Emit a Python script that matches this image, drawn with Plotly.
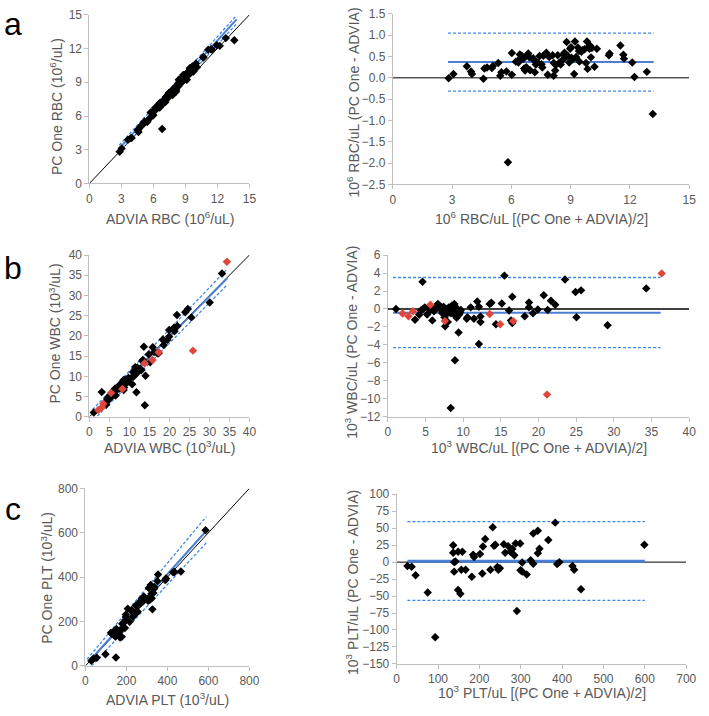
import plotly.graph_objects as go

# ---------------- DATA (mean, difference) ----------------
rbc_mean = [2.83,3.07,3.75,3.96,4.01,4.59,4.64,4.77,5.02,5.07,5.34,5.44,5.50,5.75,6.03,6.03,6.23,6.36,6.43,6.46,
            6.53,6.60,6.65,6.70,6.76,6.81,6.86,6.91,6.95,7.11,7.14,7.19,7.24,7.34,7.43,7.53,7.57,7.62,7.72,7.77,
            7.84,7.92,8.09,8.14,8.15,8.22,8.25,8.35,8.42,8.50,8.59,8.64,8.69,8.75,8.80,8.85,8.93,8.98,9.02,9.05,
            9.12,9.18,9.22,9.28,9.37,9.42,9.45,9.55,9.61,9.71,9.78,9.83,9.86,9.91,9.95,9.99,10.03,10.08,10.21,10.33,
            10.94,10.97,11.52,11.67,11.70,12.12,12.23,12.86,13.16,5.83]
rbc_diff = [-0.01,0.09,0.27,0.15,0.09,-0.02,0.22,0.24,0.23,0.28,0.35,0.05,0.13,0.15,0.58,0.07,0.38,0.36,0.55,0.46,
            0.52,0.44,0.22,0.17,0.25,0.53,0.57,0.48,0.18,0.46,0.41,0.13,0.31,0.36,0.51,0.32,0.24,0.52,0.55,0.59,
            0.07,0.49,0.53,0.05,0.35,0.17,0.30,0.53,0.35,0.31,0.42,0.55,0.59,0.49,0.84,0.52,0.36,0.68,0.72,0.47,
            0.44,0.09,0.85,0.49,0.71,0.63,0.38,0.61,0.65,0.67,0.35,0.85,0.21,0.73,0.68,0.75,0.48,0.70,0.26,0.68,
            0.53,0.57,0.76,0.54,0.45,0.36,0.02,0.14,-0.85,-1.98]

wbc_mean = [1.09,3.61,4.17,4.39,4.61,4.70,4.91,5.22,5.65,5.91,6.13,6.43,6.65,6.87,7.09,7.22,7.30,7.52,7.61,7.83,
            7.96,8.09,8.26,8.39,8.61,8.83,8.91,8.96,9.04,9.13,9.26,9.39,9.48,9.70,8.35,10.48,10.57,11.00,11.43,11.87,
            12.09,12.09,12.30,12.30,13.52,13.74,14.35,15.13,15.48,16.09,16.35,16.52,16.52,18.17,18.74,18.74,19.26,19.91,20.70,21.22,
            21.65,22.22,23.52,24.91,25.04,25.65,29.17,34.30,5.43,6.22,7.00,7.39,8.17,8.70,8.48,9.17,9.61,6.78,7.74]
wbc_diff = [0.00,-1.20,-0.65,-0.18,3.02,0.00,0.18,-0.62,-0.11,-1.27,-0.25,0.36,0.55,0.36,0.11,-0.44,-0.11,-0.91,-1.93,-0.55,
            -1.45,0.18,-0.18,-0.47,0.18,0.55,-5.71,-0.73,0.18,-0.98,-0.18,-2.62,-0.62,-0.11,-11.02,-1.09,-0.91,0.18,-1.09,0.84,
            0.25,-3.89,-1.45,-0.84,0.55,0.69,-1.71,0.62,3.71,-0.18,-1.27,-1.56,1.35,-0.80,0.18,0.73,-0.47,-0.07,1.53,-0.11,
            0.91,0.47,3.27,1.89,-0.91,2.07,-1.82,2.29,0.04,0.18,-0.07,0.25,-0.36,-0.11,0.36,-0.47,-0.36,0.25,0.00]
wbc_red_mean = [1.96,2.74,3.35,5.65,7.57,13.52,14.91,16.65,21.13,36.35]
wbc_red_diff = [-0.51,-0.80,-0.25,0.47,-1.35,-0.55,-1.71,-1.35,-9.53,3.96]

plt_mean = [26.1,36.3,45.8,75.1,136.7,136.7,139.0,142.0,139.0,148.5,154.0,148.5,158.8,156.4,166.7,181.7,184.9,187.2,201.5,208.6,
            207.0,214.0,226.7,232.3,235.4,238.6,243.3,245.7,249.6,259.1,262.3,269.4,274.9,279.7,284.4,287.6,298.6,303.4,299.4,303.4,
            314.4,323.9,330.2,330.2,341.3,341.3,345.2,366.6,383.2,387.9,393.4,425.0,429.0,445.6,598.8,93.2,290.7]
plt_diff = [-5.8,-6.7,-19.2,-44.7,25.0,13.9,0.0,1.0,-14.0,-40.9,-46.6,15.4,15.4,-11.1,-11.1,-21.6,11.0,7.7,12.0,23.1,
            -16.8,34.1,-11.1,51.4,24.0,25.5,-7.2,-11.1,-9.1,26.4,13.9,23.6,15.4,19.2,10.1,27.4,27.4,-0.5,-12.0,-13.9,
            -18.3,2.9,-2.4,42.3,46.2,13.0,19.7,32.7,58.2,-2.9,0.0,-5.8,-11.1,-39.9,25.5,-110.6,-72.1]

# Bland-Altman bias / limits of agreement and their x-extent
rbc_bias, rbc_upper, rbc_lower, rbc_ba_x = 0.37, 1.05, -0.31, [2.8, 13.2]
wbc_bias, wbc_upper, wbc_lower, wbc_ba_x = -0.42, 3.5, -4.3, [0.7, 36.2]
plt_bias, plt_upper, plt_lower, plt_ba_x = 1.4, 59.6, -56.3, [26, 600]

# Regression lines in the method-comparison panels (start, end)
rbc_fit_x, rbc_fit_y = [2.8, 13.8], [3.1, 14.6]
rbc_up_x, rbc_up_y = [2.8, 13.8], [3.4, 14.95]
rbc_lo_x, rbc_lo_y = [2.8, 13.8], [2.8, 14.2]
wbc_fit_x, wbc_fit_y = [0.8, 34.5], [0.5, 34.3]
wbc_up_x, wbc_up_y = [0.8, 34.5], [1.8, 36.6]
wbc_lo_x, wbc_lo_y = [2.0, 34.5], [0.2, 32.7]
plt_fit_x, plt_fit_y = [20, 588], [22, 607]
plt_up_x, plt_up_y = [8, 590], [30, 673]
plt_lo_x, plt_lo_y = [30, 590], [0, 555]

# derived: ADVIA = mean - diff/2 ; PC One = mean + diff/2
def split(m, d):
    return [a - b / 2 for a, b in zip(m, d)], [a + b / 2 for a, b in zip(m, d)]

rbc_advia, rbc_pc = split(rbc_mean, rbc_diff)
wbc_advia, wbc_pc = split(wbc_mean, wbc_diff)
wbc_red_advia, wbc_red_pc = split(wbc_red_mean, wbc_red_diff)
plt_advia, plt_pc = split(plt_mean, plt_diff)

# ---------------- FIGURE ----------------
W, H = 709, 716
def PX(x): return x / W
def PY(y): return 1 - y / H

BLACK = "#000000"
RED = "#e0463c"
BLUE = "#4a7fd4"
BLUE_D = "#3f86ea"
GRAY = "#595959"
AXC = "#bfbfbf"
FONT = "Liberation Sans, Arial, sans-serif"

fig = go.Figure()

def line(x, y, ax, color, width=1, dash=None):
    fig.add_trace(go.Scatter(x=x, y=y, mode="lines", xaxis="x" + ax, yaxis="y" + ax,
                             line=dict(color=color, width=width, dash=dash), hoverinfo="skip",
                             showlegend=False))

def pts(x, y, ax, color):
    fig.add_trace(go.Scatter(x=x, y=y, mode="markers", xaxis="x" + ax, yaxis="y" + ax,
                             marker=dict(symbol="diamond", size=6.5, color=color, line=dict(width=0)),
                             cliponaxis=False, showlegend=False))

DASH = "3px,2px"
DW = 1.3
# a-left (axis 1)
line([0, 15], [0, 15], "", BLACK, 1)
line(rbc_up_x, rbc_up_y, "", BLUE_D, DW, DASH)
line(rbc_lo_x, rbc_lo_y, "", BLUE_D, DW, DASH)
line(rbc_fit_x, rbc_fit_y, "", BLUE, 2)
pts(rbc_advia, rbc_pc, "", BLACK)
# a-right (axis 2)
line([0, 15], [0, 0], "2", BLACK, 1)
line(rbc_ba_x, [rbc_upper] * 2, "2", BLUE_D, DW, DASH)
line(rbc_ba_x, [rbc_lower] * 2, "2", BLUE_D, DW, DASH)
line(rbc_ba_x, [rbc_bias] * 2, "2", BLUE, 2)
pts(rbc_mean, rbc_diff, "2", BLACK)
# b-left (axis 3)
line([0, 40], [0, 40], "3", BLACK, 1)
line(wbc_up_x, wbc_up_y, "3", BLUE_D, DW, DASH)
line(wbc_lo_x, wbc_lo_y, "3", BLUE_D, DW, DASH)
line(wbc_fit_x, wbc_fit_y, "3", BLUE, 2)
pts(wbc_advia, wbc_pc, "3", BLACK)
pts(wbc_red_advia, wbc_red_pc, "3", RED)
# b-right (axis 4)
line([0, 40], [0, 0], "4", "#404040", 2)
line(wbc_ba_x, [wbc_upper] * 2, "4", BLUE_D, DW, DASH)
line(wbc_ba_x, [wbc_lower] * 2, "4", BLUE_D, DW, DASH)
line(wbc_ba_x, [wbc_bias] * 2, "4", BLUE, 2)
pts(wbc_mean, wbc_diff, "4", BLACK)
pts(wbc_red_mean, wbc_red_diff, "4", RED)
# c-left (axis 5)
line([0, 800], [0, 800], "5", BLACK, 1)
line(plt_up_x, plt_up_y, "5", BLUE_D, DW, DASH)
line(plt_lo_x, plt_lo_y, "5", BLUE_D, DW, DASH)
line(plt_fit_x, plt_fit_y, "5", BLUE, 2)
pts(plt_advia, plt_pc, "5", BLACK)
# c-right (axis 6)
line([0, 700], [0, 0], "6", BLACK, 1)
line(plt_ba_x, [plt_upper] * 2, "6", BLUE_D, DW, DASH)
line(plt_ba_x, [plt_lower] * 2, "6", BLUE_D, DW, DASH)
line(plt_ba_x, [plt_bias] * 2, "6", BLUE, 3)
pts(plt_mean, plt_diff, "6", BLACK)

common = dict(showline=True, linecolor=AXC, linewidth=1, ticks="outside", ticklen=4, tickcolor=AXC,
              showgrid=False, zeroline=False, fixedrange=True,
              tickfont=dict(family=FONT, size=12, color=GRAY))

panels = {
    "": dict(x=[88, 251], y=[8, 180], xr=[0, 15], xd=3, yr=[0, 15], yd=3, yf=None),
    "2": dict(x=[397, 699], y=[7, 181], xr=[0, 15], xd=3, yr=[-2.5, 1.5], yd=0.5, yf=".1f"),
    "3": dict(x=[88, 251], y=[253, 418], xr=[0, 40], xd=5, yr=[0, 40], yd=5, yf=None),
    "4": dict(x=[392, 699], y=[253, 418], xr=[0, 40], xd=5, yr=[-12, 6], yd=2, yf=None),
    "5": dict(x=[84, 251], y=[491, 672], xr=[0, 800], xd=200, yr=[0, 800], yd=200, yf=None),
    "6": dict(x=[401, 696], y=[497, 670], xr=[0, 700], xd=100, yr=[-150, 100], yd=25, yf=None),
}
lay = {}
for k, p in panels.items():
    xa = dict(common, domain=[PX(p["x"][0]), PX(p["x"][1])], range=p["xr"], dtick=p["xd"], tick0=0,
              anchor="y" + k)
    ya = dict(common, domain=[PY(p["y"][1]), PY(p["y"][0])], range=p["yr"], dtick=p["yd"], tick0=0,
              anchor="x" + k)
    if p["yf"]:
        ya["tickformat"] = p["yf"]
    lay["xaxis" + k] = xa
    lay["yaxis" + k] = ya

ann = []
def text(s, x, y, size=14, angle=0, color=GRAY, xanchor="center"):
    ann.append(dict(text=s, x=PX(x), y=PY(y), xref="paper", yref="paper", showarrow=False,
                    textangle=angle, xanchor=xanchor, yanchor="middle",
                    font=dict(family=FONT, size=size, color=color)))

# panel letters
text("a", 10, 17, 32, color="#000000")
text("b", 10, 266, 32, color="#000000")
text("c", 10, 512, 32, color="#000000")
# axis titles
text("PC One RBC (10<sup>6</sup>/uL)", 54, 102, angle=-90)
text("ADVIA RBC (10<sup>6</sup>/uL)", 170, 215)
text("10<sup>6</sup> RBC/uL (PC One - ADVIA)", 357, 97, angle=-90)
text("10<sup>6</sup> RBC/uL [(PC One + ADVIA)/2]", 549, 215)
text("PC One WBC (10<sup>3</sup>/uL)", 53, 333, angle=-90)
text("ADVIA WBC (10<sup>3</sup>/uL)", 170, 449)
text("10<sup>3</sup> WBC/uL (PC One - ADVIA)", 355, 342, angle=-90)
text("10<sup>3</sup> WBC/uL [(PC One + ADVIA)/2]", 546, 449)
text("PC One PLT (10<sup>3</sup>/uL)", 44, 582, angle=-90)
text("ADVIA PLT (10<sup>3</sup>/uL)", 168, 706)
text("10<sup>3</sup> PLT/uL (PC One - ADVIA)", 355, 587, angle=-90)
text("10<sup>3</sup> PLT/uL [(PC One + ADVIA)/2]", 549, 699)

fig.update_layout(width=W, height=H, autosize=False, margin=dict(l=0, r=0, t=0, b=0),
                  paper_bgcolor="white", plot_bgcolor="white", showlegend=False,
                  annotations=ann, **lay)
fig.write_html("out.html")
